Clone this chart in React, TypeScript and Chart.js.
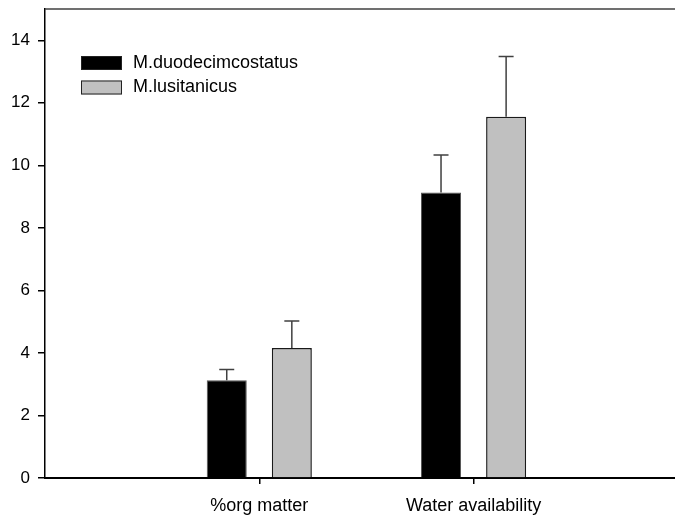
import React, { useEffect, useRef } from "react";
import { Chart, registerables } from "chart.js";

Chart.register(...registerables);

const categories = ["%org matter", "Water availability"];
const categoryPositions = [1, 2];
const seriesNames = ["M.duodecimcostatus", "M.lusitanicus"];
const duodecimValues = [3.13, 9.13];
const duodecimErrors = [0.34, 1.2];
const lusitanicusValues = [4.16, 11.55];
const lusitanicusErrors = [0.86, 1.93];
const yTicks = [0, 2, 4, 6, 8, 10, 12, 14];

const FONT = "'Liberation Sans', Arial, sans-serif";

const errorBarPlugin = {
  id: "errorBars",
  afterDatasetsDraw(chart: any) {
    const ctx = chart.ctx;
    const yScale = chart.scales.y;
    chart.data.datasets.forEach((ds: any, di: number) => {
      const meta = chart.getDatasetMeta(di);
      meta.data.forEach((bar: any, i: number) => {
        const v = ds.data[i].y;
        const e = ds.errors[i];
        const yTop = yScale.getPixelForValue(v + e);
        ctx.save();
        ctx.strokeStyle = "#404040";
        ctx.lineWidth = 1.5;
        ctx.beginPath();
        ctx.moveTo(bar.x, bar.y);
        ctx.lineTo(bar.x, yTop);
        ctx.moveTo(bar.x - 7.5, yTop);
        ctx.lineTo(bar.x + 7.5, yTop);
        ctx.stroke();
        ctx.restore();
      });
    });
  },
};

const framePlugin = {
  id: "frame",
  afterDraw(chart: any) {
    const { ctx, chartArea } = chart;
    ctx.save();
    ctx.strokeStyle = "#404040";
    ctx.lineWidth = 1.5;
    ctx.beginPath();
    ctx.moveTo(chartArea.left, chartArea.top);
    ctx.lineTo(chartArea.right, chartArea.top);
    ctx.stroke();
    ctx.restore();
  },
};

const legendPlugin = {
  id: "customLegend",
  afterDraw(chart: any) {
    const { ctx, chartArea } = chart;
    ctx.save();
    ctx.font = `18px ${FONT}`;
    ctx.textBaseline = "middle";
    ctx.textAlign = "left";
    chart.data.datasets.forEach((ds: any, i: number) => {
      const x = chartArea.left + 36;
      const y = chartArea.top + 47 + i * 24.5;
      ctx.fillStyle = ds.backgroundColor;
      ctx.fillRect(x, y, 41, 14);
      ctx.strokeStyle = "#222";
      ctx.lineWidth = 1;
      ctx.strokeRect(x + 0.5, y + 0.5, 40, 13);
      ctx.fillStyle = "#000";
      ctx.fillText(ds.label, x + 52, y + 7);
    });
    ctx.restore();
  },
};

export default function App() {
  const ref = useRef<HTMLCanvasElement>(null);
  useEffect(() => {
    if (!ref.current) return;
    const chart = new Chart(ref.current, {
      type: "bar",
      data: {
        datasets: [
          {
            label: seriesNames[0],
            data: categoryPositions.map((x, i) => ({ x, y: duodecimValues[i] })),
            errors: duodecimErrors,
            backgroundColor: "#000000",
            borderColor: "#555555",
            borderWidth: 1,
          } as any,
          {
            label: seriesNames[1],
            data: categoryPositions.map((x, i) => ({ x, y: lusitanicusValues[i] })),
            errors: lusitanicusErrors,
            backgroundColor: "#c0c0c0",
            borderColor: "#1a1a1a",
            borderWidth: 1.5,
          } as any,
        ],
      },
      options: {
        animation: false,
        responsive: false,
        events: [],
        layout: { padding: { top: 9, right: 0, left: 0, bottom: 0 } },
        datasets: { bar: { categoryPercentage: 0.6075, barPercentage: 0.615 } },
        plugins: { legend: { display: false }, tooltip: { enabled: false } },
        scales: {
          x: {
            type: "linear",
            min: 0,
            max: 2.94,
            offset: false,
            afterBuildTicks: (scale: any) => {
              scale.ticks = categoryPositions.map((v) => ({ value: v }));
            },
            afterFit: (scale: any) => {
              scale.height = 37;
              scale.paddingLeft = 0;
              scale.paddingRight = 0;
            },
            grid: {
              offset: false,
              drawOnChartArea: false,
              drawTicks: true,
              tickLength: 6,
              color: "#000",
              lineWidth: 1.5,
            },
            border: { display: true, color: "#000", width: 2 },
            ticks: {
              autoSkip: false,
              maxRotation: 0,
              padding: 11,
              color: "#000",
              font: { family: FONT, size: 18 },
              callback: (v: any) => {
                const idx = categoryPositions.indexOf(Number(v));
                return idx >= 0 ? categories[idx] : "";
              },
            },
          },
          y: {
            min: 0,
            max: 15,
            afterBuildTicks: (scale: any) => {
              scale.ticks = yTicks.map((v) => ({ value: v }));
            },
            afterFit: (scale: any) => {
              scale.width = 45;
              scale.paddingTop = 0;
              scale.paddingBottom = 0;
            },
            grid: {
              drawOnChartArea: false,
              drawTicks: true,
              tickLength: 7,
              color: "#000",
              lineWidth: 1.5,
            },
            border: { display: true, color: "#000", width: 1.5 },
            ticks: {
              padding: 8,
              color: "#000",
              font: { family: FONT, size: 17 },
            },
          },
        },
      },
      plugins: [errorBarPlugin, framePlugin, legendPlugin],
    } as any);
    return () => chart.destroy();
  }, []);
  return (
    <canvas
      ref={ref}
      width={675}
      height={515}
      style={{ position: "absolute", left: 0, top: 0, width: 675, height: 515 }}
    />
  );
}
